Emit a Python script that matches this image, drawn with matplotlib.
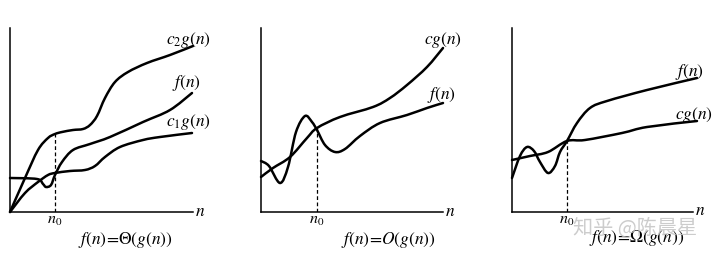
import matplotlib
matplotlib.use("Agg")
import matplotlib.pyplot as plt
import numpy as np
from matplotlib.path import Path
from matplotlib.patches import PathPatch

plt.rcParams["mathtext.fontset"] = "stix"

# ── Curve data (x = n, y = value) ────────────────────────────────────────────
# Panel 1: Theta
THETA_C2_X = [0, 15, 28, 38, 45, 52, 63, 73, 80, 87, 95, 105, 118, 137, 160, 183]
THETA_C2_Y = [0, 34, 62, 74, 78, 80, 82, 83, 87, 96, 114, 130, 140, 149, 157, 166]
THETA_F_X = [0, 27, 33, 36, 41, 45, 52, 63, 80, 100, 133, 160, 182]
THETA_F_Y = [34, 33, 28, 25, 27, 37, 50, 62, 68, 75, 90, 102, 119]
THETA_C1_X = [0, 15, 28, 38, 45, 60, 75, 85, 95, 110, 133, 150, 182]
THETA_C1_Y = [0, 19, 30, 37, 39, 41, 42, 46, 55, 65, 72, 75, 79]
THETA_N0 = 45

# Panel 2: big O
O_CG_X = [0, 12, 29, 46, 56, 79, 112, 129, 146, 166, 182]
O_CG_Y = [35, 44, 55, 74, 84, 95, 105, 114, 127, 145, 164]
O_F_X = [0, 8, 19, 27, 35, 44, 51, 56, 64, 74, 84, 99, 119, 146, 166, 182]
O_F_Y = [51, 46, 29, 45, 80, 96, 90, 82, 67, 60, 63, 76, 89, 97, 104, 109]
O_N0 = 56

# Panel 3: Omega
OM_CG_X = [0, 18, 36, 55, 73, 110, 135, 185]
OM_CG_Y = [52, 56, 60, 71, 72, 79, 85, 91]
OM_F_X = [0, 8, 15, 22, 28, 36, 43, 48, 55, 65, 78, 95, 135, 185]
OM_F_Y = [34, 56, 65, 61, 50, 39, 46, 60, 71, 89, 104, 111, 122, 134]
OM_N0 = 55

CAPTIONS = [r"$f(n)\!=\!\Theta(g(n))$", r"$f(n)\!=\!O(g(n))$",
            r"$f(n)\!=\!\Omega(g(n))$"]


def smooth_path(xs, ys):
    """Catmull-Rom through the points, drawn as cubic Bezier segments."""
    p = np.column_stack([xs, ys]).astype(float)
    ext = np.vstack([p[0], p, p[-1]])
    verts = [p[0]]
    codes = [Path.MOVETO]
    for i in range(1, len(ext) - 2):
        c1 = ext[i] + (ext[i + 1] - ext[i - 1]) / 6.0
        c2 = ext[i + 1] - (ext[i + 2] - ext[i]) / 6.0
        verts += [c1, c2, ext[i + 1]]
        codes += [Path.CURVE4] * 3
    return Path(verts, codes)


def draw_curve(ax, xs, ys):
    ax.add_patch(PathPatch(smooth_path(xs, ys), fill=False, lw=1.8,
                           edgecolor="black", capstyle="round",
                           joinstyle="round", clip_on=False, zorder=3))


def setup(ax, width):
    ax.set_xlim(0, width)
    ax.set_ylim(0, 184)
    for s in ["top", "right"]:
        ax.spines[s].set_visible(False)
    for s in ["left", "bottom"]:
        ax.spines[s].set_linewidth(1.1)
    ax.set_xticks([])
    ax.set_yticks([])
    ax.patch.set_alpha(0)


def n0_mark(ax, x, top):
    ax.plot([x, x], [0, top], color="black", lw=0.9, ls=(0, (3, 2)), zorder=2)
    ax.text(x, -8, r"$n_0$", ha="center", va="center", fontsize=11.5)


fig = plt.figure(figsize=(7.2, 2.56), dpi=100)
W, H = 720, 256
# axis origin (px) and x-axis length per panel
PANELS = [(10, 183), (261, 182), (512, 181)]
axes = []
for x0, w in PANELS:
    ax = fig.add_axes([x0 / W, 44 / H, w / W, 184 / H])
    setup(ax, w)
    axes.append(ax)

lab = dict(fontsize=12.5, ha="center", va="center")
cap = dict(fontsize=12.5, ha="center", va="center", zorder=4)

# Theta
ax = axes[0]
draw_curve(ax, THETA_C2_X, THETA_C2_Y)
draw_curve(ax, THETA_F_X, THETA_F_Y)
draw_curve(ax, THETA_C1_X, THETA_C1_Y)
n0_mark(ax, THETA_N0, 78)
ax.text(178, 172, r"$c_2g(n)$", **lab)
ax.text(176, 129, r"$f(n)$", **lab)
ax.text(178, 90, r"$c_1g(n)$", **lab)
ax.text(190, 1, r"$n$", **lab)
ax.text(115, -28, CAPTIONS[0], **cap)

# Big O
ax = axes[1]
draw_curve(ax, O_CG_X, O_CG_Y)
draw_curve(ax, O_F_X, O_F_Y)
n0_mark(ax, O_N0, 84)
ax.text(182, 172, r"$cg(n)$", **lab)
ax.text(180, 117, r"$f(n)$", **lab)
ax.text(189, 1, r"$n$", **lab)
ax.text(127, -28, CAPTIONS[1], **cap)

# Omega
ax = axes[2]
draw_curve(ax, OM_CG_X, OM_CG_Y)
draw_curve(ax, OM_F_X, OM_F_Y)
n0_mark(ax, OM_N0, 71)
ax.text(177, 140, r"$f(n)$", **lab)
ax.text(182, 97, r"$cg(n)$", **lab)
ax.text(188, 2, r"$n$", **lab)
ax.text(125, -26, CAPTIONS[2], **cap)

# watermark
fig.text(635 / W, 1 - 228 / H, "知乎 @陈晨星", fontsize=14.5, color="#c4c4c4",
         ha="center", va="center", family=["Noto Sans CJK SC", "DejaVu Sans"],
         zorder=5, alpha=0.85)

fig.savefig("out.png", dpi=100)
